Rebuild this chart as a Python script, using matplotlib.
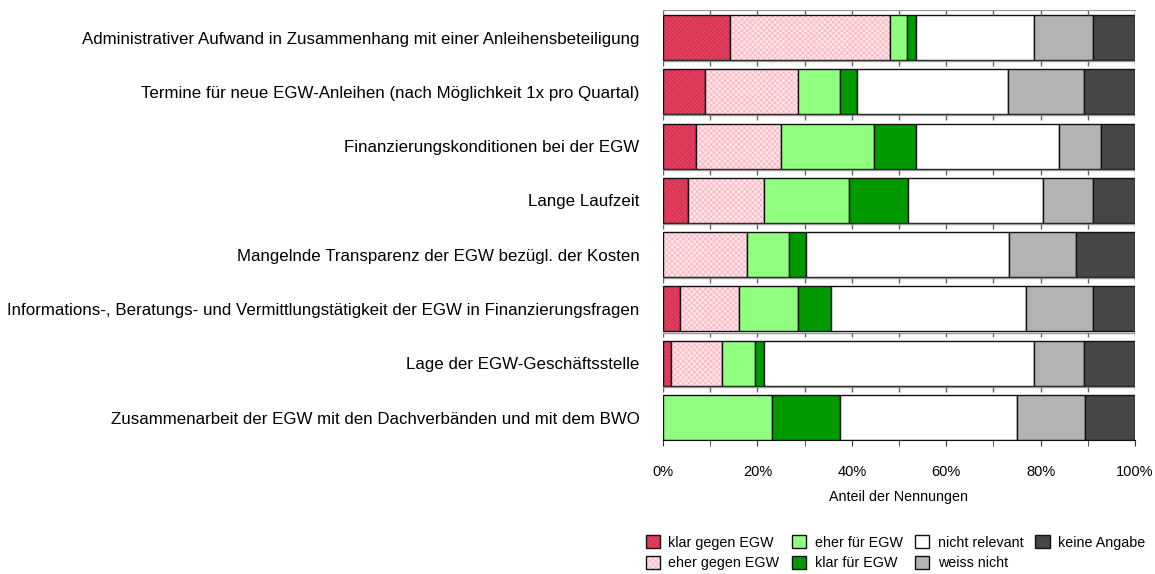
import numpy as np
import matplotlib
matplotlib.use('Agg')
import matplotlib.pyplot as plt
from matplotlib.patches import Patch

plt.rcParams['font.family'] = ['Liberation Sans', 'DejaVu Sans']
plt.rcParams['hatch.linewidth'] = 0.6

# Kategorien (von oben nach unten)
themen = [
    'Administrativer Aufwand in Zusammenhang mit einer Anleihensbeteiligung',
    'Termine für neue EGW-Anleihen (nach Möglichkeit 1x pro Quartal)',
    'Finanzierungskonditionen bei der EGW',
    'Lange Laufzeit',
    'Mangelnde Transparenz der EGW bezügl. der Kosten',
    'Informations-, Beratungs- und Vermittlungstätigkeit der EGW in Finanzierungsfragen',
    'Lage der EGW-Geschäftsstelle',
    'Zusammenarbeit der EGW mit den Dachverbänden und mit dem BWO',
]

# Anteile in Prozent, je Antwortkategorie
klar_gegen = [14.3, 8.9, 7.1, 5.4, 0.0, 3.6, 1.8, 0.0]
eher_gegen = [33.9, 19.6, 17.9, 16.1, 17.9, 12.5, 10.7, 0.0]
eher_fuer = [3.6, 8.9, 19.6, 17.9, 8.9, 12.5, 7.1, 23.2]
klar_fuer = [1.8, 3.6, 8.9, 12.5, 3.6, 7.1, 1.8, 14.3]
nicht_relevant = [25.0, 32.1, 30.4, 28.6, 42.9, 41.1, 57.1, 37.5]
weiss_nicht = [12.5, 16.1, 8.9, 10.7, 14.3, 14.3, 10.7, 14.3]
keine_angabe = [8.9, 10.7, 7.1, 8.9, 12.5, 8.9, 10.7, 10.7]

serien = ['klar gegen EGW', 'eher gegen EGW', 'eher für EGW', 'klar für EGW',
          'nicht relevant', 'weiss nicht', 'keine Angabe']
werte = [klar_gegen, eher_gegen, eher_fuer, klar_fuer, nicht_relevant, weiss_nicht, keine_angabe]

# (Füllfarbe, Schraffur, Schraffurfarbe)
stile = [
    ('#e4405f', '////////', '#cc2a4a'),
    ('#ffe6ea', 'xxxxxx', '#ffb3c0'),
    ('#90ff80', None, None),
    ('#009900', None, None),
    ('#ffffff', None, None),
    ('#b3b3b3', None, None),
    ('#464646', None, None),
]

fig = plt.figure(figsize=(11.55, 5.74), dpi=100)
ax = fig.add_axes([0.574, 0.2334, 0.4087, 0.7492])

y = np.arange(len(themen))
h = 0.83
links = np.zeros(len(themen))
for name, vals, (fc, hatch, hc) in zip(serien, werte, stile):
    vals = np.array(vals)
    if hatch:
        ax.barh(y, vals, h, left=links, color=fc, hatch=hatch, edgecolor=hc, linewidth=0)
        ax.barh(y, vals, h, left=links, fill=False, edgecolor='#111111', linewidth=1.0)
    else:
        ax.barh(y, vals, h, left=links, color=fc, edgecolor='#111111', linewidth=1.0)
    links += vals

top = -0.507
ax.set_xlim(0, 100)
ax.set_ylim(len(themen) - 1 + h / 2, top)

# Trennlinien mit Teilstrichen zwischen den Balken (und oben)
tick_pos = np.arange(0, 101, 10)
ax.vlines(tick_pos, top, top + 0.085, color='#666666', linewidth=1.0)
for i in range(len(themen) - 1):
    yb = i + h / 2 + 0.02
    ax.hlines(yb, 0, 100, color='#999999', linewidth=1.0)
    ax.vlines(tick_pos, yb, yb + 0.09, color='#666666', linewidth=1.0)

ax.set_yticks(y)
ax.set_yticklabels(themen, fontsize=12.2)
ax.tick_params(axis='y', length=0, pad=17)

ax.set_xticks(np.arange(0, 101, 20))
ax.set_xticklabels([f'{v}%' for v in range(0, 101, 20)], fontsize=10.5)
ax.set_xticks(tick_pos, minor=True)
ax.tick_params(axis='x', which='both', direction='out', length=4, pad=14, color='#333333')
ax.set_xlabel('Anteil der Nennungen', fontsize=10.3, labelpad=8)

for s in ['left', 'right']:
    ax.spines[s].set_visible(False)
ax.spines['top'].set_color('#999999')
ax.spines['bottom'].set_color('#111111')

# Legende: schraffierte Felder als Paar (Schraffur + Umriss)
handles = []
for name, (fc, hatch, hc) in zip(serien, stile):
    if hatch:
        handles.append((Patch(facecolor=fc, hatch=hatch, edgecolor=hc, linewidth=0),
                        Patch(fill=False, edgecolor='#111111')))
    else:
        handles.append(Patch(facecolor=fc, edgecolor='#111111'))
fig.legend(handles=handles, labels=serien, ncol=4, loc='lower right',
           bbox_to_anchor=(1.003, -0.016),
           frameon=False, fontsize=10.3, handlelength=1.0, handleheight=1.0,
           handletextpad=0.6, columnspacing=0.85, labelspacing=0.45)

fig.savefig('out.png', dpi=100)
